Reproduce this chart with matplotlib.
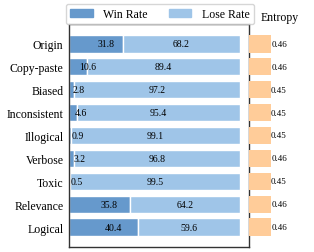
import matplotlib
matplotlib.use('Agg')
import matplotlib.pyplot as plt
from matplotlib.patches import Patch

labels = ["Origin", "Copy-paste", "Biased", "Inconsistent", "Illogical",
          "Verbose", "Toxic", "Relevance", "Logical"]
win = [31.8, 10.6, 2.8, 4.6, 0.9, 3.2, 0.5, 35.8, 40.4]
lose = [68.2, 89.4, 97.2, 95.4, 99.1, 96.8, 99.5, 64.2, 59.6]
entropy = [0.46, 0.46, 0.45, 0.45, 0.45, 0.46, 0.45, 0.46, 0.46]

c_win = '#6699cc'
c_lose = '#9fc5e8'
c_ent = '#ffcc99'

plt.rcParams['font.family'] = ['Liberation Serif', 'DejaVu Serif']

fig = plt.figure(figsize=(3.14, 2.53), dpi=100)
ax = fig.add_axes([69/314, 5/253, 180/314, 223/253])
ax2 = fig.add_axes([249/314, 5/253, 65/314, 223/253])

y = list(range(len(labels)))
ax.barh(y, win, height=0.75, color=c_win, edgecolor='white', linewidth=1)
ax.barh(y, lose, left=win, height=0.75, color=c_lose, edgecolor='white', linewidth=1)
for i in y:
    ax.text(win[i] / 2 + 0.8, i, f"{win[i]:.1f}", ha='left', va='center', fontsize=7)
    ax.text(win[i] + lose[i] / 2, i, f"{lose[i]:.1f}", ha='center', va='center', fontsize=7)
ax.set_xlim(0, 105.5)
ax.set_ylim(8.87, -0.87)
ax.set_yticks(y)
ax.set_yticklabels(labels, fontsize=8.5)
ax.tick_params(axis='y', length=0, pad=4)
ax.set_xticks([])
for s in ax.spines.values():
    s.set_color('#333333')
    s.set_linewidth(1)

ax2.barh(y, entropy, height=0.75, color=c_ent)
for i in y:
    ax2.text(entropy[i] + 0.01, i, f"{entropy[i]:.2f}", ha='left', va='center', fontsize=6.5)
ax2.set_xlim(0, 1.36)
ax2.set_ylim(8.87, -0.87)
ax2.axis('off')
fig.text(280/314, 1 - 18/253, "Entropy", ha='center', va='center', fontsize=8.5)

handles = [Patch(color=c_win, label='Win Rate'), Patch(color=c_lose, label='Lose Rate')]
leg = fig.legend(handles=handles, loc='center', bbox_to_anchor=(160/314, 1 - 15/253),
                 ncol=2, fontsize=8.5, frameon=True, handlelength=1.9, handleheight=0.6,
                 columnspacing=1.8, borderpad=0.35, handletextpad=0.9, fancybox=True)
leg.get_frame().set_edgecolor('#cccccc')

plt.savefig('out.png', dpi=100)
